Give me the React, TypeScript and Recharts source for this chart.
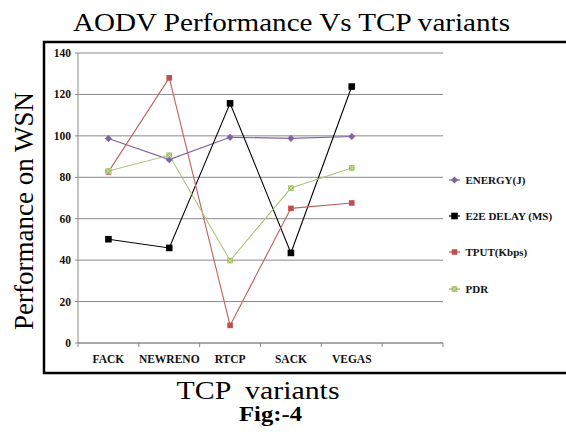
import React from 'react';
import { LineChart, Line, XAxis, YAxis, CartesianGrid } from 'recharts';

const categories = ['FACK', 'NEWRENO', 'RTCP', 'SACK', 'VEGAS', ''];
const energy = [98.7, 88.5, 99.3, 98.8, 99.7, null];
const e2eDelay = [50.1, 45.9, 115.7, 43.5, 123.8, null];
const tput = [82.6, 128, 8.5, 65, 67.6, null];
const pdr = [83, 90.6, 39.8, 74.8, 84.5, null];
const yTicks = [0, 20, 40, 60, 80, 100, 120, 140];
const seriesNames = ['ENERGY(J)', 'E2E DELAY (MS)', 'TPUT(Kbps)', 'PDR'];
const titleText = 'AODV Performance Vs TCP variants';
const yLabelText = 'Performance on WSN';
const xLabelText = 'TCP  variants';
const figText = 'Fig:-4';

const data = categories.map((c, i) => ({
  name: c,
  energy: energy[i],
  e2e: e2eDelay[i],
  tput: tput[i],
  pdr: pdr[i],
}));

const SERIF = "'Liberation Serif', 'Times New Roman', Times, Tinos";
const COLORS = ['#8064A2', '#000000', '#C0504D', '#9BBB59'];
const SHAPES = ['diamond', 'bigsquare', 'square', 'xsquare'];

function marker(shape: string, color: string, cx: number, cy: number, key?: string) {
  if (shape === 'diamond') {
    const r = 3.6;
    return (
      <path key={key} d={`M${cx},${cy - r}L${cx + r},${cy}L${cx},${cy + r}L${cx - r},${cy}Z`} fill={color} />
    );
  }
  if (shape === 'bigsquare') {
    const r = 3.3;
    return <rect key={key} x={cx - r} y={cy - r} width={2 * r} height={2 * r} fill={color} />;
  }
  if (shape === 'square') {
    const r = 2.8;
    return <rect key={key} x={cx - r} y={cy - r} width={2 * r} height={2 * r} fill={color} />;
  }
  const r = 2.8;
  return (
    <g key={key}>
      <rect x={cx - r} y={cy - r} width={2 * r} height={2 * r} fill={color} />
      <path d={`M${cx - r},${cy - r}L${cx + r},${cy + r}M${cx + r},${cy - r}L${cx - r},${cy + r}`} stroke="#d4e3b0" strokeWidth={1} />
    </g>
  );
}

const makeDot = (shape: string, color: string) => (props: any) => {
  const { cx, cy, index, value } = props;
  const key = `dot-${shape}-${index}`;
  if (cx == null || cy == null || value == null || Number.isNaN(cy)) return <g key={key} />;
  return marker(shape, color, cx, cy, key);
};

const XTick = (props: any) => {
  const { x, y, payload, index } = props;
  const half = payload && payload.offset ? payload.offset : 30.4;
  return (
    <g>
      <line x1={x - half} y1={y} x2={x - half} y2={y + 4} stroke="#8a8a8a" />
      {index === categories.length - 1 && (
        <line x1={x + half} y1={y} x2={x + half} y2={y + 4} stroke="#8a8a8a" />
      )}
      <text x={x} y={y + 20} textAnchor="middle" style={{ fontFamily: SERIF, fontWeight: 700, fontSize: 11.5 }} fill="#111">
        {payload.value}
      </text>
    </g>
  );
};

const YTick = (props: any) => {
  const { x, y, payload } = props;
  return (
    <text x={x} y={y + 4} textAnchor="end" style={{ fontFamily: SERIF, fontWeight: 700, fontSize: 11.5 }} fill="#111">
      {payload.value}
    </text>
  );
};

const legendY = [180, 216, 252, 289];

export default function App() {
  return (
    <div style={{ position: 'absolute', left: 0, top: 0, width: 566, height: 439, background: '#fff' }}>
      <LineChart
        width={566}
        height={439}
        data={data}
        margin={{ top: 53, right: 123, bottom: 66, left: 48 }}
      >
        <CartesianGrid vertical={false} stroke="#8a8a8a" strokeWidth={1} />
        <XAxis
          dataKey="name"
          scale="band"
          height={30}
          axisLine={{ stroke: '#8a8a8a' }}
          tickLine={false}
          tickSize={0}
          tickMargin={0}
          interval={0}
          tick={<XTick />}
        />
        <YAxis
          width={30}
          domain={[0, 140]}
          ticks={yTicks}
          interval={0}
          axisLine={{ stroke: '#8a8a8a' }}
          tickLine={{ stroke: '#8a8a8a' }}
          tickSize={3}
          tickMargin={4}
          tick={<YTick />}
        />
        <Line dataKey="energy" stroke={COLORS[0]} strokeWidth={1.2} dot={makeDot(SHAPES[0], COLORS[0])} isAnimationActive={false} />
        <Line dataKey="e2e" stroke={COLORS[1]} strokeWidth={1.1} dot={makeDot(SHAPES[1], COLORS[1])} isAnimationActive={false} />
        <Line dataKey="tput" stroke="#c0605d" strokeWidth={1.1} dot={makeDot(SHAPES[2], COLORS[2])} isAnimationActive={false} />
        <Line dataKey="pdr" stroke="#a9c67a" strokeWidth={1.1} dot={makeDot(SHAPES[3], COLORS[3])} isAnimationActive={false} />
      </LineChart>
      <svg width={566} height={439} style={{ position: 'absolute', left: 0, top: 0, pointerEvents: 'none' }}>
        <rect x={44} y={42} width={540} height={331} fill="none" stroke="#000" strokeWidth={2.5} />
        <text x={291.5} y={31} textAnchor="middle" style={{ fontFamily: SERIF, fontSize: 25.5 }} fill="#000" textLength={437} lengthAdjust="spacingAndGlyphs">
          {titleText}
        </text>
        <text
          transform="translate(33,211) rotate(-90)"
          textAnchor="middle"
          style={{ fontFamily: SERIF, fontSize: 27 }}
          fill="#000"
          textLength={238}
          lengthAdjust="spacingAndGlyphs"
        >
          {yLabelText}
        </text>
        <text x={258} y={399} textAnchor="middle" style={{ fontFamily: SERIF, whiteSpace: 'pre', fontSize: 25 }} fill="#000" textLength={163} lengthAdjust="spacingAndGlyphs">
          {xLabelText}
        </text>
        <text x={270.5} y={421} textAnchor="middle" style={{ fontFamily: SERIF, fontWeight: 700, fontSize: 21.5 }} fill="#000" textLength={63} lengthAdjust="spacingAndGlyphs">
          {figText}
        </text>
        {seriesNames.map((n, i) => (
          <g key={n}>
            <line x1={449} y1={legendY[i]} x2={460} y2={legendY[i]} stroke={COLORS[i]} strokeWidth={1.2} />
            {marker(SHAPES[i], COLORS[i], 454.5, legendY[i])}
            <text x={465.5} y={legendY[i] + 3.8} style={{ fontFamily: SERIF, fontWeight: 700, fontSize: 11 }} fill="#111">
              {n}
            </text>
          </g>
        ))}
      </svg>
    </div>
  );
}
